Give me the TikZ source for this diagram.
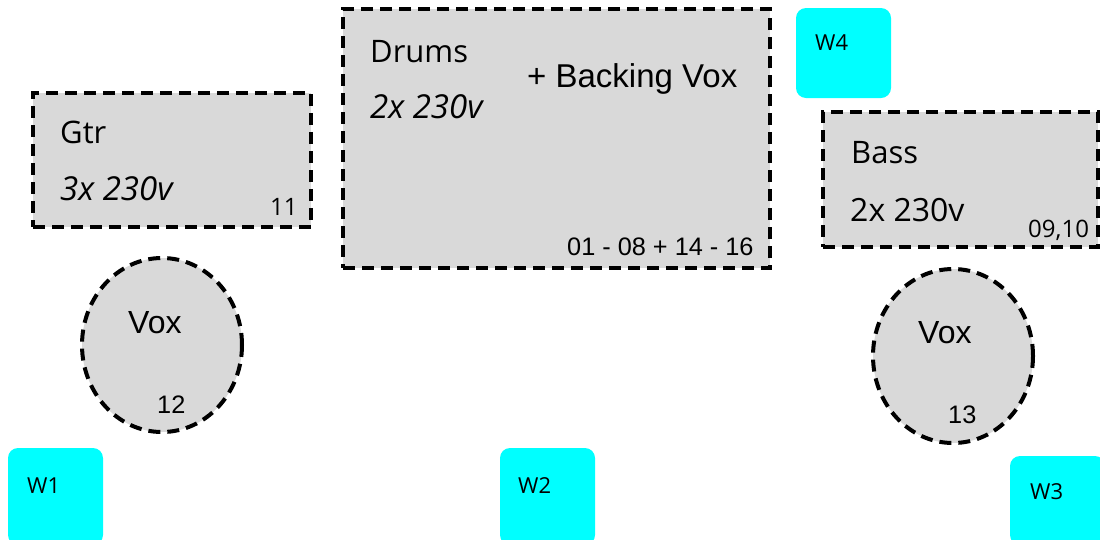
\documentclass[tikz,border=0pt]{standalone}
\usepackage{fontspec}
\setmainfont{Open Sans}
\newfontfamily\arialfont{Liberation Sans}
\usepackage{xcolor}
\usetikzlibrary{shapes.geometric}
\definecolor{stagegray}{HTML}{D9D9D9}
\definecolor{wedgecyan}{HTML}{00FFFF}

\begin{document}
\begin{tikzpicture}[x=1pt, y=-1pt,
    area/.style={shape=rectangle, draw, fill=stagegray, line width=4pt, dash pattern=on 12pt off 7pt, inner sep=0pt},
    mic/.style={shape=ellipse, draw, fill=stagegray, line width=4pt, dash pattern=on 12pt off 7pt, inner sep=0pt, minimum width=160pt, minimum height=174pt},
    wedge/.style={shape=rectangle, fill=wedgecyan, rounded corners=10pt, inner sep=0pt, minimum width=95pt, minimum height=97pt},
    txt/.style={anchor=base west, inner sep=0pt, font=\fontsize{31}{36}\selectfont},
    num/.style={anchor=base west, inner sep=0pt, font=\arialfont\fontsize{25.3}{30}\selectfont}]
    \useasboundingbox (0,0) rectangle (1100,539);

    % risers
    \node[area, minimum width=278pt, minimum height=134pt] (gtr) at (172,160) {};
    \node[area, minimum width=427pt, minimum height=259pt] (drums) at (556.5,138.5) {};
    \node[area, minimum width=275pt, minimum height=135pt] (bass) at (960.5,179.5) {};

    \node[txt] (gtrname) at (60,143) {Gtr};
    \node[txt, font=\fontsize{33}{38}\selectfont\itshape] (gtrpower) at (60,200) {3x 230v};
    \node[txt, font=\fontsize{24}{28}\selectfont] (gtrch) at (270,215) {11};

    \node[txt] (drumsname) at (370,62) {Drums};
    \node[txt, font=\fontsize{33}{38}\selectfont\itshape] (drumspower) at (370,118) {2x 230v};
    \node[num, font=\arialfont\fontsize{33}{38}\selectfont] (backing) at (527,87) {+ Backing Vox};
    \node[num] (drumsch) at (567,255) {01 - 08 + 14 - 16};

    \node[txt] (bassname) at (851,163) {Bass};
    \node[txt, font=\fontsize{32}{37}\selectfont] (basspower) at (850,221) {2x 230v};
    \node[txt, font=\fontsize{24}{28}\selectfont] (bassch) at (1028,237) {09,10};

    % vocal mics
    \node[mic] (voxl) at (162,345) {};
    \node[num, font=\arialfont\fontsize{32}{36}\selectfont] (voxlname) at (128,333) {Vox};
    \node[num] (voxlch) at (157,413) {12};

    \node[mic] (voxr) at (953,356) {};
    \node[num, font=\arialfont\fontsize{32}{36}\selectfont] (voxrname) at (918,343) {Vox};
    \node[num] (voxrch) at (948,423) {13};

    % wedges
    \node[wedge, minimum height=90pt] (w4) at (843.5,53) {};
    \node[wedge] (w1) at (55.5,496.5) {};
    \node[wedge] (w2) at (547.5,496.5) {};
    \node[wedge, minimum height=89pt] (w3) at (1057.5,500.5) {};

    \node[txt, font=\fontsize{22}{26}\selectfont] (w4name) at (815,50) {W4};
    \node[txt, font=\fontsize{22}{26}\selectfont] (w1name) at (27,493) {W1};
    \node[txt, font=\fontsize{22}{26}\selectfont] (w2name) at (518,493) {W2};
    \node[txt, font=\fontsize{22}{26}\selectfont] (w3name) at (1030,499) {W3};
\end{tikzpicture}
\end{document}
